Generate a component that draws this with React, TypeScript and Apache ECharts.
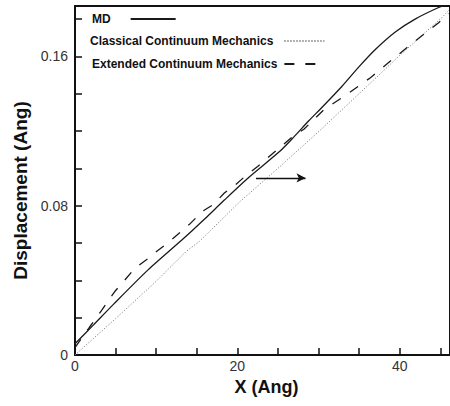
import React, { useEffect, useRef } from "react";
import * as echarts from "echarts";

const mdX = [0, 2.25, 4.7, 9, 13.4, 16, 18.4, 21.5, 25.2, 27, 28.8, 30.5, 32.9, 35, 37, 39.5, 41.9, 44.8, 46];
const mdY = [0.006, 0.016, 0.027, 0.0456, 0.0625, 0.073, 0.083, 0.0955, 0.109, 0.117, 0.1255, 0.133, 0.144, 0.1545, 0.1637, 0.1732, 0.18, 0.1862, 0.188];

const classicalX = [0, 5, 10, 13.7, 15.3, 20.4, 25, 30.1, 35, 40, 45.2, 46];
const classicalY = [0, 0.0195, 0.0395, 0.0555, 0.0608, 0.0825, 0.1, 0.12, 0.14, 0.1605, 0.1808, 0.1845];

const extendedX = [0, 1.8, 3.3, 4.9, 6.1, 7.4, 8.8, 10.2, 11.7, 14.1, 15.7, 17, 18.4, 19.8, 21.2, 22.5, 26.8, 28.2, 30.7, 33.5, 36.4, 39, 41.9, 44.8, 46];
const extendedY = [0.004, 0.015, 0.024, 0.034, 0.04, 0.0466, 0.051, 0.056, 0.061, 0.07, 0.077, 0.0805, 0.0868, 0.0913, 0.0967, 0.101, 0.117, 0.121, 0.1316, 0.1396, 0.1486, 0.158, 0.1682, 0.178, 0.183];

const xTickLabels = [0, 20, 40];
const yTickLabels = [0, 0.08, 0.16];
const seriesNames = ["MD", "Classical Continuum Mechanics", "Extended Continuum Mechanics"];
const arrowStart = [22.3, 0.0949];
const arrowEnd = [28.4, 0.0949];

const zip = (xs: number[], ys: number[]) => xs.map((x, i) => [x, ys[i]]);

const FONT = "'Liberation Sans', Arial, Helvetica, sans-serif";

export default function App() {
  const ref = useRef<HTMLDivElement>(null);
  useEffect(() => {
    if (!ref.current) return;
    const chart = echarts.init(ref.current, undefined, { renderer: "svg" });
    const legendText = { fontFamily: FONT, fontWeight: "bold" as const, fontSize: 12, color: "#111" };
    chart.setOption({
      animation: false,
      grid: {
        left: 75,
        top: 6,
        right: -2,
        bottom: 51,
        show: true,
        borderColor: "#111",
        borderWidth: 2,
      },
      legend: [
        {
          data: [seriesNames[0]],
          left: 92,
          top: 13,
          padding: 0,
          align: "right",
          itemWidth: 45,
          itemHeight: 14,
          itemStyle: { opacity: 0 },
          textStyle: { ...legendText, padding: [0, 15, 0, 0] },
        },
        {
          data: [seriesNames[1]],
          left: 90,
          top: 35,
          padding: 0,
          align: "right",
          itemWidth: 40,
          itemHeight: 14,
          itemStyle: { opacity: 0 },
          textStyle: { ...legendText, padding: [0, 6, 0, 0] },
        },
        {
          data: [seriesNames[2]],
          left: 92,
          top: 58,
          padding: 0,
          align: "right",
          itemWidth: 31,
          itemHeight: 14,
          itemStyle: { opacity: 0 },
          textStyle: { ...legendText, padding: [0, 2, 0, 0] },
        },
      ],
      xAxis: {
        type: "value",
        min: 0,
        max: 46.2,
        interval: 5,
        name: "X (Ang)",
        nameLocation: "middle",
        nameGap: 23,
        nameTextStyle: { fontFamily: FONT, fontWeight: "bold", fontSize: 18, color: "#111", padding: [0, 0, 0, 8] },
        axisLine: { show: true, lineStyle: { color: "#111", width: 2 } },
        axisTick: { show: true, inside: true, length: 7, lineStyle: { color: "#111", width: 1.5 } },
        axisLabel: {
          margin: 4,
          fontFamily: FONT,
          fontSize: 14,
          color: "#333",
          showMaxLabel: false,
          formatter: (v: number) => (xTickLabels.some((t) => Math.abs(t - v) < 1e-6) ? String(v) : ""),
        },
        splitLine: { show: false },
      },
      yAxis: {
        type: "value",
        min: 0,
        max: 0.187,
        interval: 0.02,
        name: "Displacement (Ang)",
        nameLocation: "middle",
        nameGap: 41,
        nameTextStyle: { fontFamily: FONT, fontWeight: "bold", fontSize: 19, color: "#111", padding: [0, 20, 0, 0] },
        axisLine: { show: true, lineStyle: { color: "#111", width: 2 } },
        axisTick: { show: true, inside: true, length: 7, lineStyle: { color: "#111", width: 1.5 } },
        axisLabel: {
          margin: 7,
          fontFamily: FONT,
          fontSize: 14,
          color: "#333",
          showMaxLabel: false,
          formatter: (v: number) => {
            const t = yTickLabels.find((t) => Math.abs(t - v) < 1e-6);
            return t === undefined ? "" : String(t);
          },
        },
        splitLine: { show: false },
      },
      series: [
        {
          name: seriesNames[0],
          type: "line",
          data: zip(mdX, mdY),
          symbol: "none",
          smooth: 0.25,
          lineStyle: { color: "#1a1a1a", width: 1.3, type: "solid" },
          itemStyle: { color: "#1a1a1a" },
          z: 4,
          markLine: {
            silent: true,
            symbol: ["none", "arrow"],
            symbolSize: [7, 9],
            label: { show: false },
            lineStyle: { color: "#111", width: 1.3, type: "solid" },
            data: [[{ coord: arrowStart }, { coord: arrowEnd }]],
          },
        },
        {
          name: seriesNames[1],
          type: "line",
          data: zip(classicalX, classicalY),
          symbol: "none",
          lineStyle: { color: "#808080", width: 1, type: [1.2, 1.8] },
          itemStyle: { color: "#808080" },
          z: 2,
        },
        {
          name: seriesNames[2],
          type: "line",
          data: zip(extendedX, extendedY),
          symbol: "none",
          lineStyle: { color: "#1a1a1a", width: 1.3, type: [10, 11] },
          itemStyle: { color: "#1a1a1a" },
          z: 3,
        },
      ],
    });
    return () => chart.dispose();
  }, []);
  return <div ref={ref} style={{ width: 450, height: 406, position: "absolute", left: 0, top: 0 }} />;
}
